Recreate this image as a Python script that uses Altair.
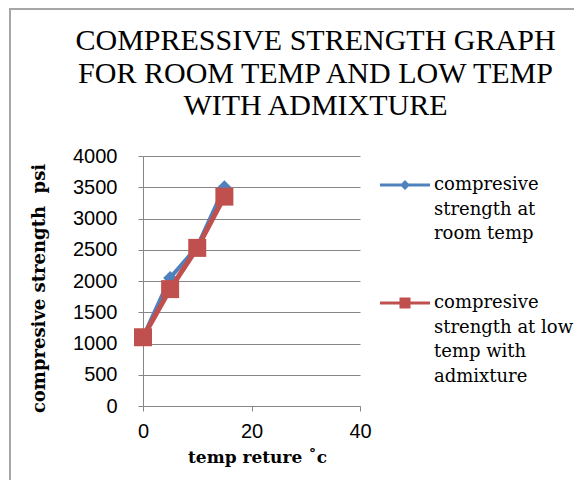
import altair as alt
import pandas as pd

# ---- data ----
temps = [0, 5, 10, 15]
room_temp = [1100, 2050, 2550, 3500]
low_temp_admix = [1100, 1870, 2530, 3350]
series_lines = [
    ["compresive", "strength at", "room temp"],
    ["compresive", "strength at low", "temp with", "admixture"],
]
series_colors = ["#4F81BD", "#C0504D"]
x_ticks = [0, 20, 40]
y_ticks = [0, 500, 1000, 1500, 2000, 2500, 3000, 3500, 4000]
title_lines = ["COMPRESSIVE STRENGTH GRAPH", "FOR ROOM TEMP AND LOW TEMP", "WITH ADMIXTURE"]
x_title = "temp reture \u02dac"
y_title = "compresive strength\u00a0\u00a0psi"

series_names = ["|".join(s) for s in series_lines]
rows = []
for name, vals in zip(series_names, [room_temp, low_temp_admix]):
    for t, v in zip(temps, vals):
        rows.append({"temp": t, "strength": v, "series": name})
df = pd.DataFrame(rows)

# legend symbols: a line with the series marker on it (drawn level with the first label line)
diamond_line = "M-1,0.3H-0.14L0,0.16L0.14,0.3H1V0.42H0.14L0,0.56L-0.14,0.42H-1Z"
square_line = "M-1,0.3H-0.22V0.14H0.22V0.3H1V0.42H0.22V0.58H-0.22V0.42H-1Z"

x_enc = alt.X("temp:Q", scale=alt.Scale(domain=[0, 40], nice=False),
              axis=alt.Axis(values=x_ticks, title=x_title, grid=False, format="d",
                            titleX=114, titleY=51, titleBaseline="middle",
                            labelPadding=10, tickSize=5, labelFlush=False))
y_enc = alt.Y("strength:Q", scale=alt.Scale(domain=[0, 4000], nice=False),
              axis=alt.Axis(values=y_ticks, title=y_title, grid=True, format="d",
                            titleX=-104, titleY=132, titleBaseline="middle", titleFontSize=18,
                            labelPadding=21, tickSize=5))

base = alt.Chart(df)

legend = alt.Legend(
    title=None, orient="none", legendX=237, legendY=-5, padding=0,
    labelExpr="split(datum.label, '|')", labelFont="DejaVu Serif", labelFontSize=18,
    labelColor="black", labelLimit=400, labelOffset=4, labelBaseline="top",
    symbolSize=2500, symbolStrokeWidth=0, symbolOpacity=1, rowPadding=26,
)
legend_layer = base.transform_filter("false").mark_point(filled=True).encode(
    x=x_enc, y=y_enc,
    color=alt.Color("series:N", scale=alt.Scale(domain=series_names, range=series_colors), legend=legend),
    shape=alt.Shape("series:N", scale=alt.Scale(domain=series_names, range=[diamond_line, square_line]),
                    legend=legend),
)

layers = [legend_layer]
markers = [("diamond", 196, 4), ("square", 324, 5)]
for name, col, (shape, size, lw) in zip(series_names, series_colors, markers):
    sub = base.transform_filter(alt.datum.series == name)
    layers.append(sub.mark_line(strokeWidth=lw, color=col).encode(x=x_enc, y=y_enc))
    layers.append(sub.mark_point(shape=shape, size=size, filled=True, opacity=1, color=col)
                  .encode(x=x_enc, y=y_enc))

frame = alt.Chart(alt.Data(values=[{}])).mark_rect(fill=None, stroke="#A6A6A6", strokeWidth=2).encode(
    x=alt.value(-133), x2=alt.value(600), y=alt.value(-147), y2=alt.value(600))

chart = alt.layer(*layers, frame).properties(
    width=217, height=250,
    autosize=alt.AutoSizeParams(type="none"),
    padding={"left": 135, "top": 148, "right": 214, "bottom": 74},
    title=alt.TitleParams(text=title_lines, font="Liberation Serif", fontSize=30,
                          fontWeight="normal", color="black", anchor="middle",
                          lineHeight=32.5, dx=64, offset=-113),
).configure(
    background="white", style={"guide-label": {"lineHeight": 24.5}}
).configure_view(stroke=None).configure_axis(
    labelFont="Liberation Sans", labelFontSize=20, labelColor="black",
    titleFont="DejaVu Serif", titleFontSize=17, titleFontWeight="bold", titleColor="black",
    domainColor="#868686", gridColor="#868686", tickColor="#868686",
    domainWidth=1, gridWidth=1,
)

chart.save("out.html", embed_options={"renderer": "svg", "actions": False})
